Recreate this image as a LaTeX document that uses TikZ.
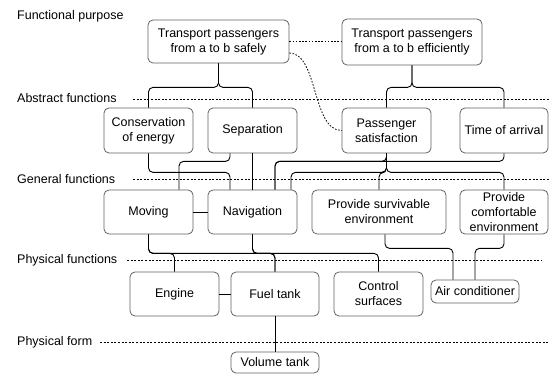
\documentclass[tikz,border=0pt]{standalone}
\usepackage{fontspec}
\setmainfont{Liberation Sans}
\begin{document}
\begin{tikzpicture}[x=1pt,y=-1pt,
  txt/.style={font=\fontsize{12.5}{15}\selectfont},
  box/.style={txt, draw=black!62, line width=0.8pt, rounded corners=5pt, align=center, inner sep=0pt},
  lvl/.style={txt, anchor=west, inner sep=0pt},
  conn/.style={draw=black, line width=0.9pt, rounded corners=4.5pt},
  lvlline/.style={draw=black, line width=0.7pt, dash pattern=on 2pt off 1.6pt},
  dotline/.style={draw=black, line width=0.8pt, dash pattern=on 1.6pt off 1.6pt}]
\useasboundingbox (0,0) rectangle (549,374);

% level labels and lines
\node[lvl] (lfp) at (17,16) {Functional purpose};
\node[lvl] (laf) at (17,98) {Abstract functions};
\node[lvl] (lgf) at (17,179) {General functions};
\node[lvl] (lpf) at (17,260) {Physical functions};
\node[lvl] (lpm) at (17,342) {Physical form};
\coordinate (af1) at (133,99);  \coordinate (af2) at (549,99);
\coordinate (gf1) at (133,179); \coordinate (gf2) at (549,179);
\coordinate (pf1) at (127,260); \coordinate (pf2) at (542,260);
\coordinate (pm1) at (100,342); \coordinate (pm2) at (548,342);
\draw[lvlline] (af1) -- (af2);
\draw[lvlline] (gf1) -- (gf2);
\draw[lvlline] (pf1) -- (pf2);
\draw[lvlline] (pm1) -- (pm2);

% functional purpose
\node[box, minimum width=141pt, minimum height=43pt] (fp1) at (218.5,41.5) {Transport passengers\\from a to b safely};
\node[box, minimum width=140pt, minimum height=46pt] (fp2) at (412,42) {Transport passengers\\from a to b efficiently};

% abstract functions
\node[box, minimum width=89pt, minimum height=45pt] (cons) at (148.5,130.5) {Conservation\\of energy};
\node[box, minimum width=89pt, minimum height=45pt] (sep) at (252.5,130.5) {Separation};
\node[box, minimum width=89pt, minimum height=45pt] (pass) at (386.5,130.5) {Passenger\\satisfaction};
\node[box, minimum width=88pt, minimum height=45pt] (time) at (504,130.5) {Time of arrival};

% general functions
\node[box, minimum width=89pt, minimum height=44pt] (mov) at (148.5,212) {Moving};
\node[box, minimum width=89pt, minimum height=44pt] (nav) at (252.5,212) {Navigation};
\node[box, minimum width=134pt, minimum height=44pt] (surv) at (379,212) {Provide survivable\\environment};
\node[box, minimum width=88pt, minimum height=44pt] (comf) at (504,212) {Provide\\comfortable\\environment};

% physical functions
\node[box, minimum width=89pt, minimum height=44pt] (eng) at (174.5,294) {Engine};
\node[box, minimum width=88pt, minimum height=44pt] (fuel) at (275,294) {Fuel tank};
\node[box, minimum width=89pt, minimum height=44pt] (ctrl) at (378.5,294) {Control\\surfaces};
\node[box, minimum width=88pt, minimum height=23pt] (ac) at (475,291.5) {Air conditioner};

% physical form
\node[box, minimum width=88pt, minimum height=21pt] (vol) at (275,362.5) {Volume tank};

% dotted relations
\draw[dotline] (fp1.east) -- (fp1.east -| fp2.west);
\draw[dotline] ([yshift=-11.5pt]fp1.east) .. controls (318,53) and (312,130.5) .. (pass.west);

% functional purpose -> abstract
\draw[conn] (fp1.south) -- ++(0,24) -| (cons.north);
\draw[conn] (fp1.south) -- ++(0,24) -| (sep.north);
\draw[conn] (fp2.south) -- ++(0,22) -| (pass.north);
\draw[conn] (fp2.south) -- ++(0,22) -| (time.north);

% abstract -> general
\draw[conn] (cons.south) -- ++(0,19) -| ([xshift=-22.5pt]nav.north);
\draw[conn] ([xshift=-22.5pt]sep.south) -- ++(0,8) -| ([xshift=30.5pt]mov.north);
\draw[conn] (sep.south) -- (nav.north);
\draw[conn] (time.south) -- ++(0,8) -| ([xshift=22.5pt]nav.north);
\draw[conn] (pass.south) -- ++(0,8) -| ([xshift=22.5pt]nav.north);
\draw[conn] (pass.south) -- ++(0,19) -| ([xshift=38.5pt]nav.north);
\draw[conn] (pass.south) -- ++(0,19) -| (surv.north);
\draw[conn] (pass.south) -- ++(0,19) -| (comf.north);

% general -> physical
\draw[conn] (mov.east) -- (nav.west);
\draw[conn] (mov.south) -- ++(0,19) -| (eng.north);
\draw[conn] (mov.south) -- ++(0,19) -| (fuel.north);
\draw[conn] (nav.south) -- ++(0,19) -| (fuel.north);
\draw[conn] (nav.south) -- ++(0,19) -| (ctrl.north);
\draw[conn] ([xshift=6pt]surv.south) -- ++(0,14) -| ([xshift=-22pt]ac.north);
\draw[conn] (comf.south) -- ++(0,14) -| (ac.north);

% physical -> form
\draw[conn] (eng.east) -- (fuel.west);
\draw[conn] (fuel.south) -- (vol.north);
\end{tikzpicture}
\end{document}
